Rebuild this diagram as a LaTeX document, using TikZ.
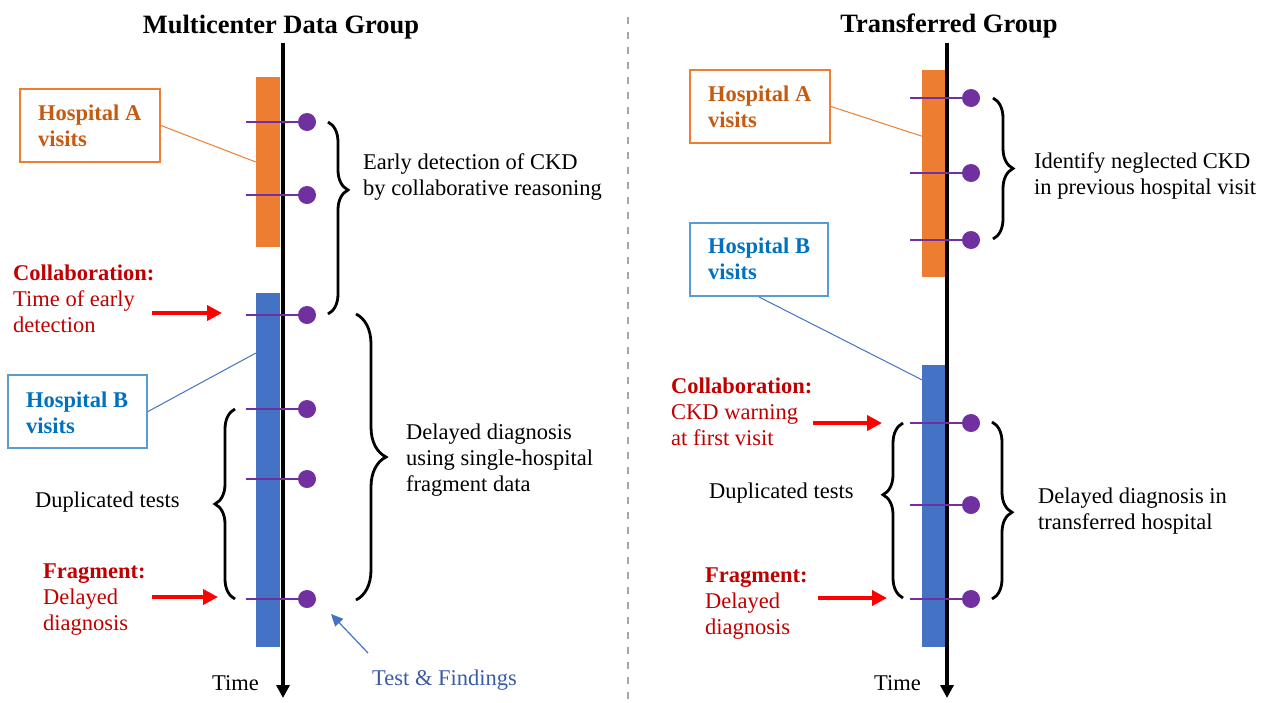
\documentclass[tikz,border=0pt]{standalone}
\usepackage{fontspec}
\setmainfont{Liberation Serif}
\usetikzlibrary{arrows.meta,decorations.pathreplacing,calc}

\definecolor{orangebar}{HTML}{ED7D31}
\definecolor{orangetxt}{HTML}{C55A11}
\definecolor{bluebar}{HTML}{4472C4}
\definecolor{bluetxt}{HTML}{0070C0}
\definecolor{blueframe}{HTML}{5B9BD5}
\definecolor{darkred}{HTML}{C00000}
\definecolor{arrowred}{HTML}{FF0000}
\definecolor{visit}{HTML}{7030A0}
\definecolor{divider}{HTML}{A6A6A6}
\definecolor{findings}{HTML}{3A5BA8}

\newcommand\bdf{\fontsize{22.5}{26}\selectfont}
\newcommand\ttlf{\fontsize{26.5}{30}\selectfont\bfseries}
% strut that fixes the top of a text block 20pt above its first baseline
\newcommand\tstr{\rule{0pt}{20pt}}

\tikzset{
  txt/.style={anchor=north west, inner sep=0pt, align=left, font=\bdf},
  hospbox/.style={draw, line width=2pt, inner sep=0pt, minimum height=73pt},
  bar/.style={inner sep=0pt, minimum width=24pt},
  dot/.style={circle, fill=visit, inner sep=0pt, minimum size=18pt},
  tick/.style={visit, line width=2pt},
  axis/.style={line width=3.5pt, -{Triangle[length=13pt,width=13pt]}},
  redarrow/.style={arrowred, line width=4.5pt, -{Triangle[length=15pt,width=15pt]}},
  curly/.style={decorate, line width=2.8pt, decoration={brace, amplitude=20pt}},
  callout/.style={line width=1pt}
}

\begin{document}
\begin{tikzpicture}[x=1pt, y=-1pt]
\useasboundingbox (0,0) rectangle (1268,702);

% ---------- divider ----------
\coordinate (divTop) at (628,17);
\coordinate (divBot) at (628,702);
\draw[divider, line width=2pt, dash pattern=on 7pt off 8pt] (divTop) -- (divBot);

% ================= Multicenter Data Group =================
\node[font=\ttlf, anchor=base, inner sep=0pt] (titleL) at (281,33) {Multicenter Data Group};

% visit bars
\node[bar, fill=orangebar, minimum height=170pt] (barAL) at (268,162) {};
\node[bar, fill=bluebar, minimum height=354pt] (barBL) at (268,470) {};

% time axis
\coordinate (axLtop) at (283,43);
\coordinate (axLbot) at (283,698);
\draw[axis] (axLtop) -- (axLbot);
\node[anchor=base west, font=\bdf, inner sep=0pt] (timeL) at (212,690) {Time};

% tests and findings
\foreach \i/\y in {1/122,2/195,3/315,4/409,5/479,6/599}{
  \coordinate (tL\i) at (246,\y);
  \node[dot] (dL\i) at (307,\y) {};
  \draw[tick] (tL\i) -- (dL\i);
}

% hospital boxes
\node[hospbox, draw=orangebar, minimum width=140pt] (hAL) at (90,125.5) {};
\node[txt, text=orangetxt, font=\bdf\bfseries] (hAtxtL) at (38,100) {\tstr Hospital A\\visits};
\draw[callout, orangebar] (hAL.east) -- (barAL.west);

\node[hospbox, draw=blueframe, minimum width=139pt] (hBL) at (77.5,411.5) {};
\node[txt, text=bluetxt, font=\bdf\bfseries] (hBtxtL) at (26,387) {\tstr Hospital B\\visits};
\draw[callout, bluebar] (hBL.east) -- ($(barBL.north west)!0.17!(barBL.south west)$);

% braces
\coordinate (bL1a) at (328,122); \coordinate (bL1b) at (328,314);
\draw[curly, decoration={amplitude=20pt, aspect=0.354}] (bL1a) -- (bL1b);
\node[txt] (earlyL) at (363,149) {\tstr Early detection of CKD\\by collaborative reasoning};

\coordinate (bL2a) at (356,314); \coordinate (bL2b) at (356,600);
\draw[curly, decoration={amplitude=30pt, aspect=0.5}] (bL2a) -- (bL2b);
\node[txt] (delL) at (406,419) {\tstr Delayed diagnosis\\using single-hospital\\fragment data};

\coordinate (bL3a) at (235,599); \coordinate (bL3b) at (235,409);
\draw[curly, decoration={amplitude=20pt, aspect=0.5}] (bL3a) -- (bL3b);
\node[txt] (dupL) at (35,487) {\tstr Duplicated tests};

% collaboration / fragment remarks
\node[txt, text=darkred] (collL) at (13,260) {\tstr\textbf{Collaboration:}\\Time of early\\detection};
\coordinate (raL1s) at (152,313); \coordinate (raL1e) at (222,313);
\draw[redarrow] (raL1s) -- (raL1e);

\node[txt, text=darkred] (fragL) at (43,558) {\tstr\textbf{Fragment:}\\Delayed\\diagnosis};
\coordinate (raL2s) at (152,597); \coordinate (raL2e) at (218,597);
\draw[redarrow] (raL2s) -- (raL2e);

% legend for the dots
\node[anchor=base west, font=\bdf, text=findings, inner sep=0pt] (tf) at (372,685) {Test \& Findings};
\coordinate (tfTail) at (368,653); \coordinate (tfTip) at (331,614);
\draw[bluebar, line width=1.2pt, -{Triangle[length=12pt,width=11pt]}] (tfTail) -- (tfTip);

% ================= Transferred Group =================
\node[font=\ttlf, anchor=base, inner sep=0pt] (titleR) at (949,32) {Transferred Group};

\node[bar, fill=orangebar, minimum width=23pt, minimum height=207pt] (barAR) at (933.5,173.5) {};
\node[bar, fill=bluebar, minimum width=23pt, minimum height=282pt] (barBR) at (933.5,506) {};

\coordinate (axRtop) at (947,43);
\coordinate (axRbot) at (947,698);
\draw[axis] (axRtop) -- (axRbot);
\node[anchor=base west, font=\bdf, inner sep=0pt] (timeR) at (874,690) {Time};

\foreach \i/\y in {1/98,2/173,3/240,4/423,5/505,6/599}{
  \coordinate (tR\i) at (910,\y);
  \node[dot] (dR\i) at (971,\y) {};
  \draw[tick] (tR\i) -- (dR\i);
}

\node[hospbox, draw=orangebar, minimum width=140pt] (hAR) at (760,106.5) {};
\node[txt, text=orangetxt, font=\bdf\bfseries] (hAtxtR) at (708,81) {\tstr Hospital A\\visits};
\draw[callout, orangebar] (hAR.east) -- ($(barAR.north west)!0.32!(barAR.south west)$);

\node[hospbox, draw=blueframe, minimum width=138pt] (hBR) at (759,259.5) {};
\node[txt, text=bluetxt, font=\bdf\bfseries] (hBtxtR) at (708,233) {\tstr Hospital B\\visits};
\draw[callout, bluebar] (hBR.south) -- ($(barBR.north west)!0.053!(barBR.south west)$);

\coordinate (bR1a) at (993,98); \coordinate (bR1b) at (993,239);
\draw[curly, decoration={amplitude=20pt, aspect=0.5}] (bR1a) -- (bR1b);
\node[txt] (identR) at (1034,148) {\tstr Identify neglected CKD\\in previous hospital visit};

\coordinate (bR2a) at (992,422); \coordinate (bR2b) at (992,599);
\draw[curly, decoration={amplitude=20pt, aspect=0.51}] (bR2a) -- (bR2b);
\node[txt] (delR) at (1038,483) {\tstr Delayed diagnosis in\\transferred hospital};

\coordinate (bR3a) at (903,598); \coordinate (bR3b) at (903,423);
\draw[curly, decoration={amplitude=20pt, aspect=0.59}] (bR3a) -- (bR3b);
\node[txt] (dupR) at (709,478) {\tstr Duplicated tests};

\node[txt, text=darkred] (collR) at (671,373) {\tstr\textbf{Collaboration:}\\CKD warning\\at first visit};
\coordinate (raR1s) at (813,423); \coordinate (raR1e) at (882,423);
\draw[redarrow] (raR1s) -- (raR1e);

\node[txt, text=darkred] (fragR) at (705,562) {\tstr\textbf{Fragment:}\\Delayed\\diagnosis};
\coordinate (raR2s) at (818,598); \coordinate (raR2e) at (887,598);
\draw[redarrow] (raR2s) -- (raR2e);

\end{tikzpicture}
\end{document}
